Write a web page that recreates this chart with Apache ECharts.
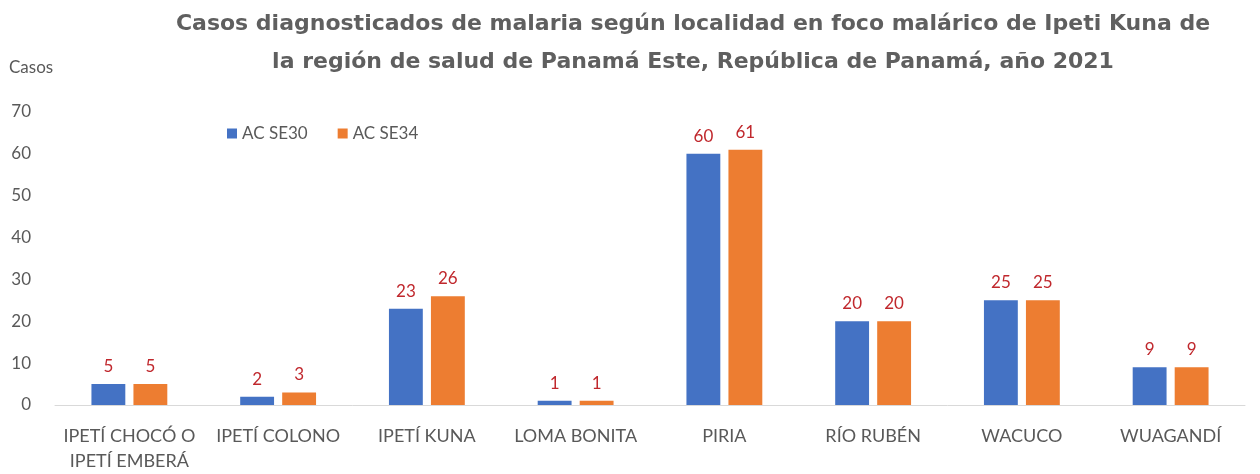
<!DOCTYPE html>
<html>
<head>
<meta charset="utf-8">
<script src="https://cdn.jsdelivr.net/npm/echarts@6/dist/echarts.min.js"></script>
<style>
  html, body { margin: 0; padding: 0; background: #fff; }
  #chart { width: 1260px; height: 474px; }
</style>
</head>
<body>
<div id="chart"></div>
<script>
var localidades = ['IPETÍ CHOCÓ O\nIPETÍ EMBERÁ', 'IPETÍ COLONO', 'IPETÍ KUNA', 'LOMA BONITA', 'PIRIA', 'RÍO RUBÉN', 'WACUCO', 'WUAGANDÍ'];
var acSE30 = [5, 2, 23, 1, 60, 20, 25, 9];
var acSE34 = [5, 3, 26, 1, 61, 20, 25, 9];
var yTicks = { min: 0, max: 70, interval: 10 };

var chart = echarts.init(document.getElementById('chart'), null, {renderer: 'canvas'});
var grey = '#595959';
var labelStyle = {
  show: true,
  position: 'top',
  distance: 9,
  color: '#c0282d',
  fontSize: 17,
  fontFamily: 'Lato'
};

chart.setOption({
  backgroundColor: '#fff',
  animation: false,
  title: {
    text: 'Casos diagnosticados de malaria según localidad en foco malárico de Ipeti Kuna de\nla región de salud de Panamá Este, República de Panamá, año 2021',
    left: 688,
    top: 0,
    textAlign: 'center',
    textStyle: {
      color: '#5f5f5f',
      fontSize: 22,
      fontWeight: 'bold',
      fontFamily: 'DejaVu Sans',
      lineHeight: 38
    }
  },
  legend: {
    left: 222,
    top: 120,
    itemWidth: 10,
    itemHeight: 10,
    itemGap: 30,
    icon: 'rect',
    textStyle: { color: grey, fontSize: 17, fontFamily: 'Lato' },
    data: ['AC SE30', 'AC SE34']
  },
  grid: {
    left: 55,
    right: 15,
    top: 112,
    bottom: 67,
    containLabel: false
  },
  xAxis: {
    type: 'category',
    data: localidades,
    axisLine: { show: true, lineStyle: { color: '#d9d9d9', width: 1 } },
    axisTick: { show: false },
    axisLabel: {
      color: grey,
      fontSize: 18,
      fontFamily: 'Lato',
      margin: 19,
      interval: 0,
      lineHeight: 25,
      verticalAlign: 'top'
    }
  },
  yAxis: {
    type: 'value',
    name: 'Casos',
    nameLocation: 'end',
    nameGap: 36,
    nameTextStyle: { color: grey, fontSize: 17, fontFamily: 'Lato', align: 'left', padding: [0, 0, 0, -46] },
    min: yTicks.min,
    max: yTicks.max,
    interval: yTicks.interval,
    axisLine: { show: false },
    axisTick: { show: false },
    splitLine: { show: false },
    axisLabel: { color: grey, fontSize: 17, fontFamily: 'Lato', margin: 24 }
  },
  series: [
    {
      name: 'AC SE30',
      type: 'bar',
      data: acSE30,
      itemStyle: { color: '#4472c4' },
      barGap: '24%',
      barCategoryGap: '49%',
      label: labelStyle
    },
    {
      name: 'AC SE34',
      type: 'bar',
      data: acSE34,
      itemStyle: { color: '#ed7d31' },
      label: labelStyle
    }
  ]
});
</script>
</body>
</html>
